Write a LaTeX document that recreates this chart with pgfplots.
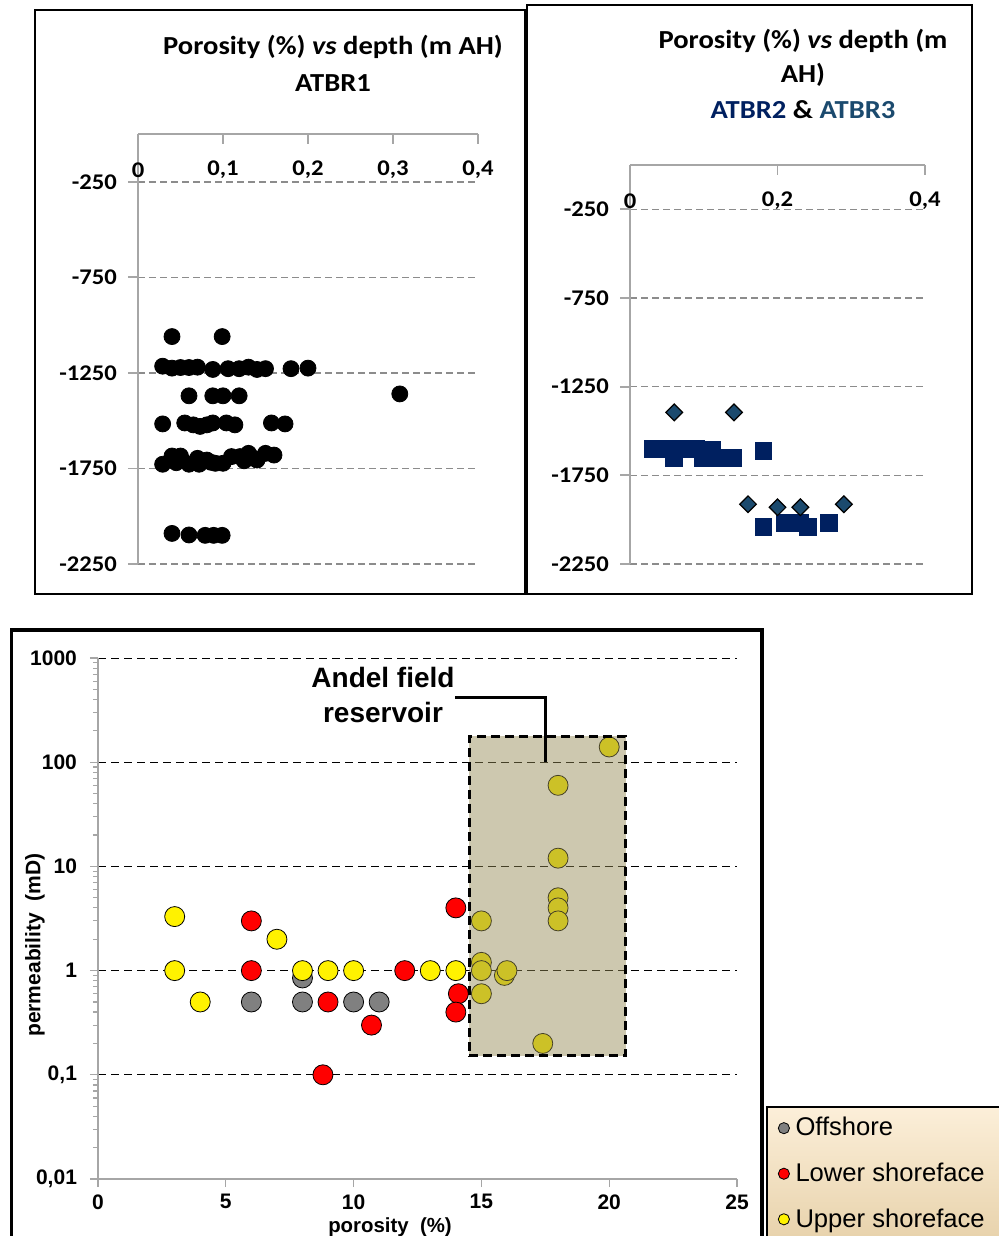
\documentclass[border=0pt]{standalone}
\usepackage{pgfplots}
\pgfplotsset{compat=1.18}
\usepackage{fontspec}
\setmainfont{Carlito}[FakeStretch=1.1]
\newfontfamily\arial{Liberation Sans}
\definecolor{navy}{HTML}{002060}
\definecolor{teal3}{HTML}{1B4A6E}
\definecolor{gridgray}{HTML}{8C8C8C}
\definecolor{axgray}{HTML}{A6A6A6}
\definecolor{olivebox}{HTML}{948A54}
\definecolor{offgray}{HTML}{808080}
\definecolor{legtop}{HTML}{FCEFD9}
\definecolor{legbot}{HTML}{E6D0A8}
\pgfplotsset{toppanel/.style={
  scale only axis, anchor=north west, clip=false,
  axis x line*=top, axis y line*=left,
  axis line style={draw=axgray, line width=0.9pt},
  tick align=inside, major tick length=5pt,
  tick style={draw=axgray, line width=0.9pt},
  ytick style={xshift=-5pt},
  ymin=-2250, ymax=0,
  ytick={-250,-750,-1250,-1750,-2250},
  yticklabels={-250,-750,-1250,-1750,-2250},
  ymajorgrids,
  major grid style={draw=gridgray, line width=0.8pt, dash pattern=on 3.5pt off 2pt},
  tick label style={font=\bfseries\fontsize{11.2}{13}\selectfont},
  yticklabel style={xshift=-7pt},
  xticklabel style={anchor=center, yshift=-18pt},
}}
\begin{document}
\begin{tikzpicture}
\useasboundingbox (0,0) rectangle (499pt,-618pt);
% frames
\draw[line width=1pt] (17.5pt,-5pt) rectangle (262.5pt,-297pt);
\draw[line width=1pt] (263.5pt,-2.5pt) rectangle (486pt,-297pt);
\draw[line width=1.6pt] (5.75pt,-625pt) -- (5.75pt,-315pt) -- (381pt,-315pt) -- (381pt,-625pt);
% legend background
\shade[top color=legtop, bottom color=legbot] (383.5pt,-553.5pt) rectangle (505pt,-625pt);
\draw[line width=1.2pt] (383.5pt,-625pt) -- (383.5pt,-553.5pt) -- (505pt,-553.5pt);

% titles
\node[font=\bfseries\fontsize{13}{15}\selectfont, anchor=base] at (166.5pt,-27.5pt) {Porosity (\%) \textit{vs} depth (m AH)};
\node[font=\bfseries\fontsize{13}{15}\selectfont, anchor=base] at (166.5pt,-45.5pt) {ATBR1};
\node[font=\bfseries\fontsize{13}{15}\selectfont, anchor=base] at (401.5pt,-24.5pt) {Porosity (\%) \textit{vs} depth (m};
\node[font=\bfseries\fontsize{13}{15}\selectfont, anchor=base] at (401.5pt,-41.5pt) {AH)};
\node[font=\bfseries\fontsize{13}{15}\selectfont, anchor=base] at (401.5pt,-59.5pt) {{\color{navy}ATBR2} \& {\color{teal3}ATBR3}};

% ---------- panel 1 ----------
\begin{axis}[toppanel, at={(69pt,-67pt)}, width=170pt, height=215pt,
  xmin=0, xmax=0.4, xtick={0,0.1,0.2,0.3,0.4},
  xticklabels={0,{0,1},{0,2},{0,3},{0,4}}]
\addplot[only marks, mark=*, mark size=4pt, mark options={fill=black, draw=black}] coordinates {
(0.040,-1060) (0.099,-1060)
(0.029,-1215) (0.040,-1225) (0.050,-1222) (0.060,-1222) (0.070,-1220) (0.088,-1232)
(0.106,-1228) (0.119,-1228) (0.130,-1220) (0.140,-1232) (0.150,-1228) (0.180,-1228) (0.200,-1225)
(0.060,-1370) (0.088,-1370) (0.100,-1370) (0.119,-1370) (0.308,-1360)
(0.029,-1517) (0.055,-1512) (0.065,-1522) (0.073,-1530) (0.081,-1522) (0.088,-1512)
(0.104,-1512) (0.114,-1522) (0.157,-1512) (0.173,-1517)
(0.029,-1728) (0.040,-1685) (0.050,-1685) (0.060,-1728) (0.045,-1720) (0.070,-1697)
(0.072,-1728) (0.081,-1706) (0.086,-1718) (0.091,-1723) (0.100,-1723) (0.110,-1688)
(0.120,-1688) (0.125,-1710) (0.130,-1671) (0.140,-1706) (0.135,-1695) (0.150,-1671) (0.160,-1680)
(0.040,-2090) (0.060,-2098) (0.079,-2100) (0.089,-2100) (0.099,-2100)
};
\end{axis}

% ---------- panel 2 ----------
\begin{axis}[toppanel, at={(315pt,-82.5pt)}, width=147.5pt, height=199.5pt,
  xmin=0, xmax=0.4, xtick={0,0.2,0.4},
  xticklabels={0,{0,2},{0,4}}]
\addplot[only marks, mark=square*, mark size=4.2pt, mark options={fill=navy, draw=navy}] coordinates {
(0.031,-1602) (0.045,-1602) (0.060,-1602) (0.060,-1653) (0.079,-1602) (0.089,-1602)
(0.099,-1655) (0.111,-1606) (0.122,-1651) (0.140,-1651) (0.181,-1612)
(0.181,-2039) (0.210,-2020) (0.231,-2020) (0.241,-2039) (0.270,-2016)
};
\addplot[only marks, mark=square*, mark size=2.95pt, mark options={rotate=45, fill=teal3, draw=black, line width=0.6pt}] coordinates {
(0.060,-1395) (0.141,-1395) (0.160,-1913) (0.200,-1930) (0.231,-1930) (0.290,-1913)
};
\end{axis}

% ---------- bottom panel ----------
\begin{axis}[scale only axis, anchor=north west, at={(49pt,-329pt)},
  width=319.5pt, height=260.5pt, clip marker paths=true,
  xmin=0, xmax=25, ymode=log, ymin=0.01, ymax=1000,
  axis x line*=bottom, axis y line*=left,
  axis line style={draw=axgray, line width=0.8pt},
  tick align=outside, major tick length=4pt, minor tick length=2.5pt,
  tick style={draw=axgray, line width=0.6pt},
  xtick={0,5,10,15,20,25}, xticklabels={0,5,10,15,20,25},
  ytick={0.01,0.1,1,10,100,1000}, yticklabels={{0,01},{0,1},1,10,100,1000},
  ymajorgrids,
  major grid style={draw=black, line width=0.5pt, dash pattern=on 4pt off 2.5pt},
  tick label style={font=\arial\bfseries\fontsize{10.5}{12}\selectfont},
  yticklabel style={xshift=-3pt}, xticklabel style={yshift=-2pt, inner ysep=1.5pt},
  xlabel={porosity\ \ (\%)}, ylabel={permeability\ \ (mD)},
  label style={font=\arial\bfseries\fontsize{10.5}{12}\selectfont},
  xlabel style={at={(axis description cs:0.457,-0.093)}, anchor=center, inner ysep=0.5pt, font=\arial\bfseries\fontsize{10.2}{12}\selectfont},
  ylabel style={at={(axis description cs:-0.0986,0.449)}, anchor=center},
  legend image code/.code={\draw[#1, mark size=2.8pt] plot coordinates {(0pt,0pt)};},
  legend style={at={(axis description cs:1.064,0.1267)}, anchor=north west,
    draw=none, fill=none, inner sep=0pt, row sep=8pt, column sep=1pt,
    font=\arial\fontsize{12.8}{15}\selectfont},
  legend cell align=left,
  mark options={line width=0.9pt}]
\addplot[only marks, mark=*, mark size=5pt, mark options={fill=offgray, draw=black}] coordinates {
(6,0.5) (8,0.85) (8,0.5) (10,0.5) (11,0.5)
};
\addlegendentry{Offshore}
\addplot[only marks, mark=*, mark size=5pt, mark options={fill=red, draw=black}] coordinates {
(6,3) (6,1) (9,0.5) (8.8,0.1) (10.7,0.3) (12,1) (14,4) (14.1,0.6) (14,0.4)
};
\addlegendentry{Lower shoreface}
\addplot[only marks, mark=*, mark size=5pt, mark options={fill=yellow, draw=black}] coordinates {
(3,3.3) (3,1) (4,0.5) (7,2) (8,1) (9,1) (10,1) (13,1) (14,1)
(15,3) (15,1.2) (15,1) (15,0.6) (15.9,0.9) (16,1)
(18,60) (18,12) (18,5) (18,4) (18,3) (17.4,0.2) (20,140)
};
\addlegendentry{Upper shoreface}
\addplot[forget plot, no marks, fill=olivebox, fill opacity=0.47, draw=black, line width=1.4pt,
  dash pattern=on 4.5pt off 2.5pt] coordinates {
(14.53,0.152) (20.65,0.152) (20.65,178) (14.53,178)
} -- cycle;
\draw[line width=1.5pt] (axis cs:13.97,422) -- (axis cs:17.49,422) -- (axis cs:17.49,100);
\end{axis}
\node[font=\arial\bfseries\fontsize{14}{16}\selectfont, anchor=base] at (191.5pt,-343.5pt) {Andel field};
\node[font=\arial\bfseries\fontsize{14}{16}\selectfont, anchor=base] at (191.5pt,-361pt) {reservoir};
\end{tikzpicture}
\end{document}
